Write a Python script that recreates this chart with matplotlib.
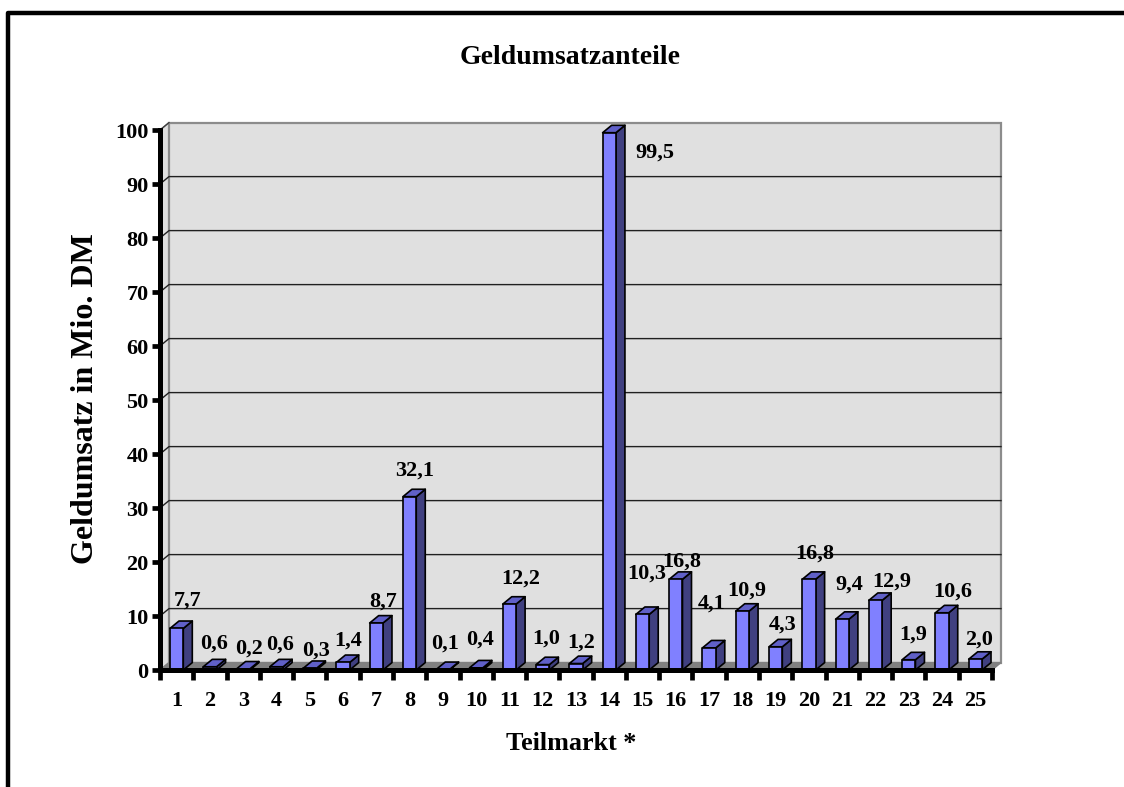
import matplotlib
matplotlib.use("Agg")
import matplotlib.pyplot as plt
from matplotlib.patches import Polygon, Rectangle
from matplotlib.lines import Line2D

W, H = 1124, 787
title = "Geldumsatzanteile"
xlabel = "Teilmarkt *"
ylabel = "Geldumsatz in Mio. DM"
markets = [str(i) for i in range(1, 26)]
values = [7.7, 0.6, 0.2, 0.6, 0.3, 1.4, 8.7, 32.1, 0.1, 0.4, 12.2, 1.0, 1.2,
          99.5, 10.3, 16.8, 4.1, 10.9, 4.3, 16.8, 9.4, 12.9, 1.9, 10.6, 2.0]
labels = ["7,7", "0,6", "0,2", "0,6", "0,3", "1,4", "8,7", "32,1", "0,1", "0,4", "12,2", "1,0", "1,2",
          "99,5", "10,3", "16,8", "4,1", "10,9", "4,3", "16,8", "9,4", "12,9", "1,9", "10,6", "2,0"]
yticks = list(range(0, 101, 10))

# label offsets from the bar's front-top centre, in pixels
offsets = [(11, 29), (4, 25), (6, 22), (4, 24), (6, 19), (5, 23), (7, 23), (5, 28), (2, 27), (4, 30),
           (11, 27), (3, 28), (5, 22), (46, -18), (4, 42), (6, 19), (3, 46), (4, 22), (7, 24), (6, 27),
           (7, 36), (16, 20), (4, 27), (11, 23), (4, 21)]

plt.rcParams['font.family'] = ['Liberation Serif', 'DejaVu Serif']
plt.rcParams['font.weight'] = 'bold'

fig = plt.figure(figsize=(W / 100, H / 100), dpi=100, facecolor='white')
# x 0..25 -> px 160..992; y 0..100 -> px 670..130
ax = fig.add_axes([160 / W, 1 - 670 / H, 832 / W, 540 / H])
ax.set_xlim(0, 25)
ax.set_ylim(0, 100)
ax.patch.set_visible(False)
for s in ax.spines.values():
    s.set_visible(False)

DX = 9 / (832 / 25)
DY = 7.4 / 5.4
BAR_L, BAR_W = 0.3, 0.4

ax.add_patch(Polygon([(0, 0), (DX, DY), (DX, 100 + DY), (0, 100)], fc='#E0E0E0', ec='#8c8c8c', lw=1.0, zorder=1, clip_on=False))
ax.add_patch(Rectangle((DX, DY), 25, 100, fc='#E0E0E0', ec='#8c8c8c', lw=1.6, zorder=1, clip_on=False))
ax.add_patch(Polygon([(0, 0), (25, 0), (25 + DX, DY), (DX, DY)], fc='#808080', ec='#808080', lw=1, zorder=2, clip_on=False))

for t in yticks[1:-1]:
    ax.plot([0, DX, 25 + DX], [t, t + DY, t + DY], color='#202020', lw=1.0, zorder=2, clip_on=False)
ax.plot([0, DX], [100, 100 + DY], color='#404040', lw=1.0, zorder=2, clip_on=False)

for i, v in enumerate(values):
    l, r = i + BAR_L, i + BAR_L + BAR_W
    kw = dict(ec='black', lw=1.2, joinstyle='round', zorder=3, clip_on=False)
    ax.add_patch(Polygon([(r, 0), (r + DX, DY), (r + DX, v + DY), (r, v)], fc='#404080', **kw))
    ax.add_patch(Polygon([(l, v), (r, v), (r + DX, v + DY), (l + DX, v + DY)], fc='#6060C8', **kw))
    ax.add_patch(Polygon([(l, 0), (r, 0), (r, v), (l, v)], fc='#8080FF', **kw))
    ox, oy = offsets[i]
    ax.annotate(labels[i], (i + 0.5, v), xytext=(ox, oy - 1.5), textcoords='offset pixels',
                ha='center', va='center', fontsize=16, fontweight='bold', color='black',
                zorder=5, annotation_clip=False)

ax.set_xticks(range(0, 26))
ax.set_xticklabels([])
ax.set_yticks(yticks)
ax.set_yticklabels([str(t) for t in yticks], fontsize=16, fontweight='bold')
ax.tick_params(axis='y', length=6, width=3.4, pad=2.2, color='black')
ax.tick_params(axis='x', length=7, width=3.4, color='black')
ax.plot([0, 0], [0, 100], color='black', lw=3.6, solid_capstyle='projecting', zorder=4, clip_on=False)
ax.plot([0, 25], [0, 0], color='black', lw=3.6, solid_capstyle='projecting', zorder=4, clip_on=False)

for i, m in enumerate(markets):
    ax.annotate(m, (i + 0.5, 0), xytext=(0, -31.5), textcoords='offset pixels', ha='center', va='center',
                fontsize=16, fontweight='bold', annotation_clip=False)

fig.text(570 / W, 1 - 58 / H, title, ha='center', va='center', fontsize=20, fontweight='bold')
fig.text(571 / W, 1 - 743 / H, xlabel, ha='center', va='center', fontsize=18.8, fontweight='bold')
fig.text(86 / W, 1 - 399 / H, ylabel, ha='center', va='center', rotation=90, fontsize=23, fontweight='bold')

fig.add_artist(Line2D([8 / W, 8 / W, 1], [0, 1 - 13 / H, 1 - 13 / H], color='black', lw=3.2,
                      solid_joinstyle='round', transform=fig.transFigure))

fig.savefig('out.png', dpi=100, facecolor='white')
